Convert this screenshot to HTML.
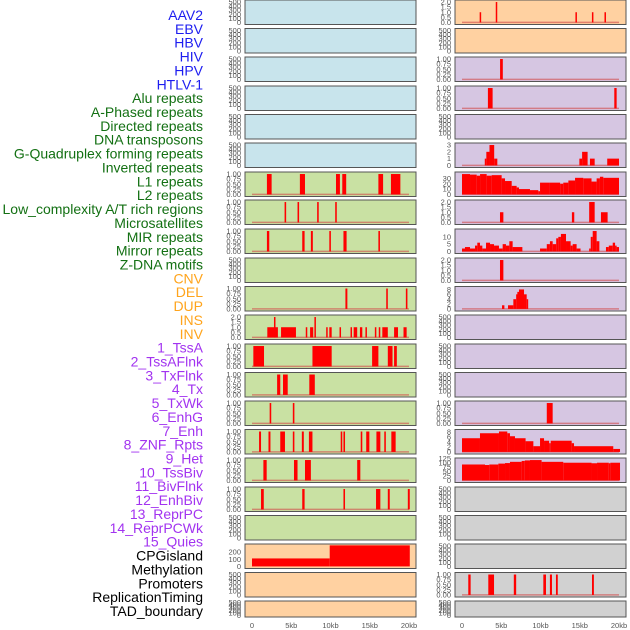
<!DOCTYPE html>
<html><head><meta charset="utf-8"><style>
html,body{margin:0;padding:0;background:#fff;}
svg{display:block;font-family:"Liberation Sans",sans-serif;}
</style></head><body>
<svg id="chart" width="630" height="630" viewBox="0 0 630 630" xmlns="http://www.w3.org/2000/svg"></svg>
<script>
// ---- data ----
const categories = ["AAV2","EBV","HBV","HIV","HPV","HTLV-1","Alu repeats","A-Phased repeats","Directed repeats","DNA transposons","G-Quadruplex forming repeats","Inverted repeats","L1 repeats","L2 repeats","Low_complexity A/T rich regions","Microsatellites","MIR repeats","Mirror repeats","Z-DNA motifs","CNV","DEL","DUP","INS","INV","1_TssA","2_TssAFlnk","3_TxFlnk","4_Tx","5_TxWk","6_EnhG","7_Enh","8_ZNF_Rpts","9_Het","10_TssBiv","11_BivFlnk","12_EnhBiv","13_ReprPC","14_ReprPCWk","15_Quies","CPGisland","Methylation","Promoters","ReplicationTiming","TAD_boundary"];
const categoryGroups = ["v","v","v","v","v","v","r","r","r","r","r","r","r","r","r","r","r","r","r","c","c","c","c","c","s","s","s","s","s","s","s","s","s","s","s","s","s","s","s","k","k","k","k","k"];
const xTickValues = [0,5,10,15,20];
const xTickLabels = ["0","5kb","10kb","15kb","20kb"];
const ticksUnit = [0,0.25,0.5,0.75,1];
const ticksTwo = [0,0.5,1,1.5,2];
const ticksEmpty = [0,100,200,300,400,500];

// left column tracks: [x0 kb, x1 kb, value]
const left6 = [[1.9,2.5,1],[6.1,6.75,1],[10.7,11.2,1],[11.5,12.0,1],[16.1,16.7,1],[17.7,18.9,1]];
const left7 = [[4.15,4.35,1],[5.8,6.0,1],[8.3,8.5,1],[10.6,10.8,1]];
const left8 = [[1.9,2.2,1],[6.4,6.7,1],[7.5,7.75,1],[9.85,10.05,1],[11.65,12.05,1],[16.1,16.3,1]];
const left10 = [[11.9,12.15,1],[17.1,17.3,1],[19.6,19.8,1]];
const left11 = [[1.95,3.3,1],[2.8,2.95,2],[3.7,5.6,1],[6.85,7.0,1],[7.4,7.8,1],[7.95,8.1,2],[9.45,9.6,1],[9.85,10.15,1],[11.15,11.3,1],[12.55,12.7,1],[12.95,13.4,1],[13.75,14.05,1],[14.45,14.6,1],[15.65,15.8,1],[16.15,16.3,1],[16.6,17.3,1],[18.1,18.6,1],[19.3,19.7,1]];
const left12 = [[0.17,1.53,1],[7.7,10.15,1],[15.3,16.1,1],[17.3,17.9,1],[18.1,18.45,1]];
const left13 = [[3.2,3.6,1],[3.95,4.55,1],[7.3,8.0,1]];
const left14 = [[2.25,2.45,1],[5.2,5.4,1]];
const left15 = [[0.9,1.15,1],[2.1,2.35,1],[3.6,4.2,1],[5.2,5.4,1],[6.35,6.6,1],[7.25,7.7,1],[11.3,11.5,1],[11.65,11.85,1],[13.85,14.05,1],[14.55,14.95,1],[15.85,16.35,1],[16.85,17.05,1],[17.75,18.3,1]];
const left16 = [[1.45,1.87,1],[5.35,5.8,1],[6.75,7.5,1],[13.4,13.8,1]];
const left17 = [[1.15,1.5,1],[6.4,6.7,1],[11.65,11.85,1],[15.8,16.35,1],[17.3,17.55,1],[19.85,20.1,1]];
const cpgBars = [[0,9.9,110],[9.9,20.1,290]];
const ticksCpg = [0,100,200];

// right column tracks
const right0 = [[2.25,2.4,1],[4.3,4.45,2],[14.45,14.6,1],[16.55,16.7,1],[18.15,18.3,1]];
const right2 = [[4.85,5.2,1]];
const right3 = [[3.3,3.9,1],[19.4,19.7,1]];
const right5 = [[2.9,3.1,1],[3.1,3.5,2],[3.5,4.1,3],[4.1,4.5,1],[14.95,15.3,1],[15.3,16.0,2],[16.3,16.9,1],[18.5,20.0,1]];
const ticksThree = [0,1,2,3];
const right6 = [[0,1.02,38],[1.02,1.87,37],[1.87,2.3,35],[2.3,3.14,38],[3.14,3.78,35],[3.78,5.05,36],[5.05,5.48,30],[5.48,6.33,25],[6.33,6.96,16],[6.96,7.26,13],[7.26,8.66,10],[8.66,9.72,8],[9.72,9.94,6],[9.94,11.2,22],[11.2,12.5,22],[12.5,12.9,20],[12.9,13.55,22],[13.55,14.4,26],[14.4,15.45,31],[15.45,16.5,30],[16.5,17.15,24],[17.15,17.57,30],[17.57,18.0,33],[18.0,20.0,31]];
const ticksThirty = [0,10,20,30];
const right7 = [[4.84,5.27,1],[14.0,14.3,1],[16.2,16.9,2],[17.7,18.55,1]];
const right8 = [[0,0.38,2],[0.38,1.02,3],[1.02,1.66,2],[1.66,1.95,4],[1.95,2.29,6],[2.29,2.59,4],[2.59,3.06,2],[3.06,3.57,6],[3.57,4.08,5],[4.08,4.71,4],[4.71,5.18,2],[5.18,5.6,5],[5.6,6.03,4],[6.03,6.45,7],[6.45,7.69,3],[9.94,10.8,2],[10.8,11.2,5],[11.2,11.55,7],[11.55,12.0,5],[12.0,12.27,9],[12.27,12.6,10],[12.6,13.25,12],[13.25,13.84,7],[13.84,14.1,4],[14.1,14.6,5],[14.6,15.1,2],[16.2,16.4,2],[16.4,16.65,10],[16.65,17.15,14],[17.15,17.5,7],[18.34,18.7,3],[18.7,19.2,4],[19.2,19.5,6],[19.5,19.7,4],[19.7,20.0,3]];
const ticksTen = [0,5,10];
const right9 = [[4.84,5.27,2]];
const right10 = [[5.1,5.4,1.5],[5.86,6.54,1.5],[6.54,6.9,4],[6.9,7.05,6],[7.05,7.26,7],[7.26,7.9,8],[7.9,8.24,6],[8.24,8.35,4]];
const ticksEight = [0,2,4,6,8];
const right14 = [[10.8,11.55,1]];
const right15 = [[0,2.29,5.5],[2.29,4.71,7.5],[4.71,5.77,8.2],[5.77,6.11,7.5],[6.11,6.75,6.3],[6.75,8.1,5.5],[8.1,9.09,4.3],[9.09,9.94,2.3],[9.94,10.45,5.5],[10.45,11.1,4.5],[11.1,11.3,3.5],[11.3,13.97,4.5],[13.97,14.27,3.5],[14.27,19.27,2.3],[19.27,20.13,1.2]];
const right16 = [[0,2.93,90],[2.93,3.48,87],[3.48,4.63,90],[4.63,5.48,95],[5.48,6.11,98],[6.11,7.6,105],[7.6,8.0,110],[8.0,8.66,113],[8.66,10.14,115],[10.14,12.9,105],[12.9,16.5,100],[16.5,17.2,97],[17.2,18.7,100],[18.7,18.9,97],[18.9,20.13,100]];
const ticksHundred = [0,25,50,75,100,125];
const right20 = [[0.8,1.1,1],[3.35,4.08,1],[6.6,6.9,1],[10.36,10.7,1],[11.2,11.46,1],[11.97,12.2,1],[16.56,16.8,1]];

// ---- layout ----
const NS="http://www.w3.org/2000/svg";
const svg=document.getElementById('chart');
function mk(tag,attrs,parent){const e=document.createElementNS(NS,tag);for(const k in attrs)e.setAttribute(k,attrs[k]);(parent||svg).appendChild(e);return e;}
const rowTops=[0,28.5,57,86,114.5,143,172,200,229,258,286.5,315,344,372.5,401,429.5,458,487,515.5,544,572.5,601];
const colors={blue:"#c8e4ec",green:"#c9e1a3",orange:"#ffd1a1",purple:"#d6c6e2",gray:"#d1d1d1"};
const cols=[{x:245,w:171,zero:252,tickX:241},{x:455,w:171,zero:462,tickX:451}];
const KBPX=7.85;
function xScale(col,kb){return cols[col].zero+kb*KBPX;}

function fmt(ticks,v){
  if(ticks===ticksUnit) return v.toFixed(2);
  if(ticks===ticksTwo) return v.toFixed(1);
  return String(v);
}
function panel(col,row,bg,ticks,top,bars,name,baseline){
  const c=cols[col];const y0=rowTops[row];const h=(row===21)?16:24.5;
  const g=mk('g',{});
  
  
  const bot=-top*0.05;
  const yS=v=>y0+h-1-(v-bot)/(top-bot)*(h-2);
  const r=mk('rect',{x:c.x,y:y0,width:c.w,height:h,fill:bg,stroke:'#555','stroke-width':1},g);
  
  
  if(baseline){
    const l=mk('line',{x1:xScale(col,0),x2:xScale(col,20),y1:yS(0),y2:yS(0),stroke:'#d24a4a','stroke-width':1.5,opacity:0.6},g);
    
    
  }
  (bars||[]).forEach(b=>{
    const x1=xScale(col,b[0]),x2=xScale(col,b[1]);
    const yt=Math.max(y0+0.5,yS(b[2]));
    const rr=mk('rect',{x:x1,y:yt,width:Math.max(1.5,x2-x1),height:yS(0)-yt,fill:'#ff0000'},g);
    
    
  });
  ticks.forEach(v=>{
    const ty=yS(v);
    if(ty<y0-3) return;
    const t=mk('text',{x:c.tickX,y:ty+2.6,'font-size':7.5,fill:'#555','text-anchor':'end'},g);
    t.textContent=fmt(ticks,v);
    
    
  });
}

// left column
for(let i=0;i<22;i++){
  const bg=i<6?colors.blue:(i<19?colors.green:colors.orange);
  const map={6:left6,7:left7,8:left8,10:left10,11:left11,12:left12,13:left13,14:left14,15:left15,16:left16,17:left17};
  if(i===19){panel(0,i,bg,ticksCpg,295,cpgBars,'left-track-19',false);continue;}
  if(map[i]){
    const two=(i===11);
    panel(0,i,bg,two?ticksTwo:ticksUnit,two?2.1:1.05,map[i],'left-track-'+i,true);
  } else panel(0,i,bg,ticksEmpty,520,[],'left-track-'+i,false);
}
// right column
const rmap={0:[right0,ticksTwo,2.1],2:[right2,ticksUnit,1.05],3:[right3,ticksUnit,1.05],5:[right5,ticksThree,3.15],6:[right6,ticksThirty,40],7:[right7,ticksTwo,2.1],8:[right8,ticksTen,14.7],9:[right9,ticksTwo,2.1],10:[right10,ticksEight,8.8],14:[right14,ticksUnit,1.05],15:[right15,ticksEight,8.6],16:[right16,ticksHundred,121],20:[right20,ticksUnit,1.05]};
for(let i=0;i<22;i++){
  const bg=i<2?colors.orange:(i<17?colors.purple:colors.gray);
  if(rmap[i]) panel(1,i,bg,rmap[i][1],rmap[i][2],rmap[i][0],'right-track-'+i,true);
  else panel(1,i,bg,ticksEmpty,520,[],'right-track-'+i,false);
}
// x axes
[0,1].forEach(col=>{
  xTickValues.forEach((v,i)=>{
    const t=mk('text',{x:xScale(col,v),y:628,'font-size':7.5,fill:'#555','text-anchor':'middle'});
    t.textContent=xTickLabels[i];
    
    
  });
});
// labels
const labelColors={v:"#1d1df0",r:"#137013",c:"#ffa41c",s:"#a233f0",k:"#000000"};
categories.forEach((name,i)=>{
  const t=mk('text',{x:203,y:15+i*13.86+5,'font-size':14,fill:labelColors[categoryGroups[i]],'text-anchor':'end'});
  t.textContent=name;
  
  
});
</script>
</body></html>
